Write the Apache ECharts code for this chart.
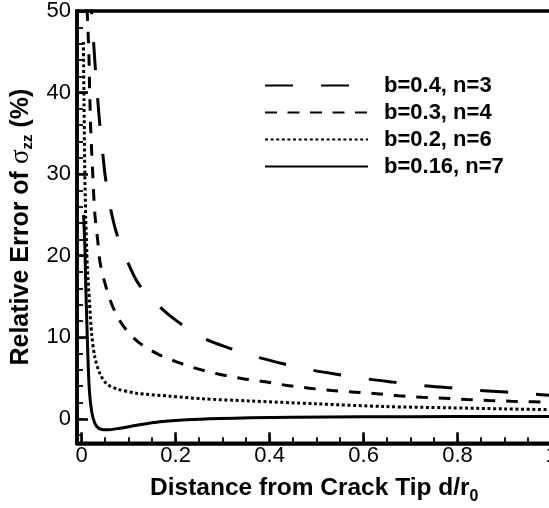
<!DOCTYPE html>
<html><head><meta charset="utf-8">
<script src="https://cdn.jsdelivr.net/npm/echarts@6/dist/echarts.min.js"></script>
<style>html,body{margin:0;padding:0;background:#fff}#c{width:549px;height:508px}</style>
</head><body><div id="c"></div>
<script>
const seriesNames = ['b=0.4, n=3', 'b=0.3, n=4', 'b=0.2, n=6', 'b=0.16, n=7'];
const xTickValues = [0, 0.2, 0.4, 0.6, 0.8, 1];
const yTickValues = [0, 10, 20, 30, 40, 50];

const xLong = [0.019, 0.021, 0.0245, 0.0285, 0.033, 0.038, 0.044, 0.050, 0.060, 0.073, 0.090, 0.1205, 0.163, 0.2056, 0.259, 0.314, 0.365, 0.429, 0.488, 0.546, 0.607, 0.663, 0.725, 0.784, 0.844, 0.903, 0.963, 1.0];
const yLong = [53, 50, 46.9, 43.4, 40, 36.4, 33, 29.8, 26.2, 23, 20.3, 16.6, 13.9, 11.86, 9.9, 8.67, 7.7, 6.75, 6.0, 5.44, 4.9, 4.5, 4.08, 3.8, 3.5, 3.28, 3.03, 2.88];

const xMed = [0.011, 0.012, 0.014, 0.0156, 0.0165, 0.0177, 0.019, 0.021, 0.0233, 0.0255, 0.0283, 0.034, 0.039, 0.0496, 0.065, 0.0858, 0.118, 0.16, 0.2035, 0.249, 0.295, 0.344, 0.391, 0.4376, 0.4845, 0.533, 0.582, 0.628, 0.675, 0.724, 0.772, 0.8195, 0.866, 0.914, 0.961, 1.0];
const yMed = [53, 49.5, 46.8, 44.1, 41.3, 38.6, 35.8, 33.1, 30.3, 27.5, 24.9, 21.9, 19.2, 16.6, 13.9, 11.6, 9.53, 8.0, 6.95, 6.09, 5.44, 4.91, 4.54, 4.09, 3.76, 3.47, 3.27, 3.07, 2.82, 2.65, 2.53, 2.37, 2.25, 2.16, 2.09, 2.0];

const xDot = [0.0035, 0.0049, 0.0064, 0.0085, 0.0106, 0.012, 0.0163, 0.0213, 0.028, 0.039, 0.053, 0.0745, 0.117, 0.188, 0.259, 0.355, 0.50, 0.642, 0.784, 0.90, 1.0];
const yDot = [46.2, 39.1, 30.9, 24.7, 20.9, 18.6, 14.5, 10.4, 7.56, 5.52, 4.30, 3.68, 3.14, 2.78, 2.45, 2.2, 1.84, 1.51, 1.35, 1.22, 1.12];

const xSol = [0.004, 0.0055, 0.007, 0.0085, 0.0106, 0.0128, 0.0155, 0.019, 0.0247, 0.032, 0.0426, 0.0532, 0.0815, 0.117, 0.1667, 0.2235, 0.294, 0.358, 0.45, 0.6, 0.8, 1.0];
const ySol = [25, 23, 20.7, 16.6, 12.5, 8.4, 4.3, 1.84, 0, -0.94, -1.31, -1.35, -1.15, -0.79, -0.37, -0.12, 0.04, 0.12, 0.2, 0.25, 0.28, 0.3];

const pair = (xs, ys) => xs.map((x, i) => [x, ys[i]]);
const FONT = 'Liberation Sans';
const dashes = [[28, 28], [12, 10.5], [3, 2.6], 'solid'];
const datasets = [pair(xLong, yLong), pair(xMed, yMed), pair(xDot, yDot), pair(xSol, ySol)];

const chart = echarts.init(document.getElementById('c'), null, {renderer: 'canvas'});
const near = (v, arr) => arr.some(a => Math.abs(a - v) < 1e-6);

chart.setOption({
  animation: false,
  backgroundColor: '#fff',
  grid: {left: 77, top: 11, right: -2.5, bottom: 64.7, show: true, borderColor: '#000', borderWidth: 3.5,
    containLabel: false, outerBoundsMode: 'none'},
  legend: {
    orient: 'vertical', left: 264, top: 72, padding: 0, itemGap: 0,
    itemWidth: 103, itemHeight: 14,
    itemStyle: {color: 'rgba(0,0,0,0)', borderWidth: 0, opacity: 0},
    textStyle: {fontFamily: FONT, fontSize: 22, fontWeight: 'bold', color: '#000', lineHeight: 27, padding: [0, 0, 0, 11]},
    data: seriesNames
  },
  xAxis: [{
    type: 'value', min: -0.01, max: 1, minInterval: 0.2, maxInterval: 0.2, position: 'bottom',
    axisLine: {show: true, onZero: false, lineStyle: {color: '#000', width: 3.5}},
    axisTick: {show: true, inside: true, length: 11, lineStyle: {color: '#000', width: 2.6}},
    splitLine: {show: false},
    axisLabel: {margin: 2, fontFamily: FONT, fontSize: 22, color: '#000', hideOverlap: false,
      formatter: v => { const r = Number(v.toFixed(4)); return near(r, xTickValues) ? (Math.abs(r) < 1e-9 ? '0' : String(r)) : ''; }},
    name: 'Distance from Crack Tip d/r{sub|0}', nameLocation: 'middle', nameGap: 22,
    nameTextStyle: {fontFamily: FONT, fontSize: 24.5, fontWeight: 'bold', color: '#000', lineHeight: 32,
      rich: {sub: {fontFamily: FONT, fontSize: 16, fontWeight: 'bold', color: '#000', lineHeight: 12, verticalAlign: 'bottom'}}}
  }, {
    type: 'value', min: -0.01, max: 1, minInterval: 0.05, maxInterval: 0.05, position: 'bottom',
    axisLine: {show: false, onZero: false}, axisLabel: {show: false}, splitLine: {show: false},
    axisTick: {show: true, inside: true, length: 6, lineStyle: {color: '#000', width: 1.8}}
  }],
  yAxis: [{
    type: 'value', min: -3, max: 50, minInterval: 10, maxInterval: 10, position: 'left',
    axisLine: {show: true, onZero: false, lineStyle: {color: '#000', width: 3.5}},
    axisTick: {show: true, inside: true, length: 11, lineStyle: {color: '#000', width: 2.6}},
    splitLine: {show: false},
    axisLabel: {margin: 6, fontFamily: FONT, fontSize: 22, color: '#000',
      formatter: v => near(v, yTickValues) ? String(Math.round(v)) : ''},
    name: 'Relative Error of {s|σ}{sub|zz} (%)', nameLocation: 'middle', nameGap: 28,
    nameTextStyle: {fontFamily: FONT, fontSize: 25, fontWeight: 'bold', color: '#000', lineHeight: 30,
      rich: {
        s: {fontFamily: 'Liberation Serif', fontSize: 27, fontWeight: 'normal', color: '#000', lineHeight: 30},
        sub: {fontFamily: FONT, fontSize: 15, fontWeight: 'bold', color: '#000', lineHeight: 15, verticalAlign: 'bottom'}
      }}
  }, {
    type: 'value', min: -3, max: 50, minInterval: 2, maxInterval: 2, position: 'left',
    axisLine: {show: false, onZero: false}, axisLabel: {show: false}, splitLine: {show: false},
    axisTick: {show: true, inside: true, length: 6, lineStyle: {color: '#000', width: 1.8}}
  }],
  series: seriesNames.map((name, i) => ({
    name, type: 'line', xAxisIndex: 0, yAxisIndex: 0,
    data: datasets[i], showSymbol: false, symbol: 'none',
    smooth: 0.3, clip: true,
    lineStyle: {color: '#000', width: 3, type: dashes[i]},
    itemStyle: {color: '#000'},
    z: 3
  }))
});
</script></body></html>
